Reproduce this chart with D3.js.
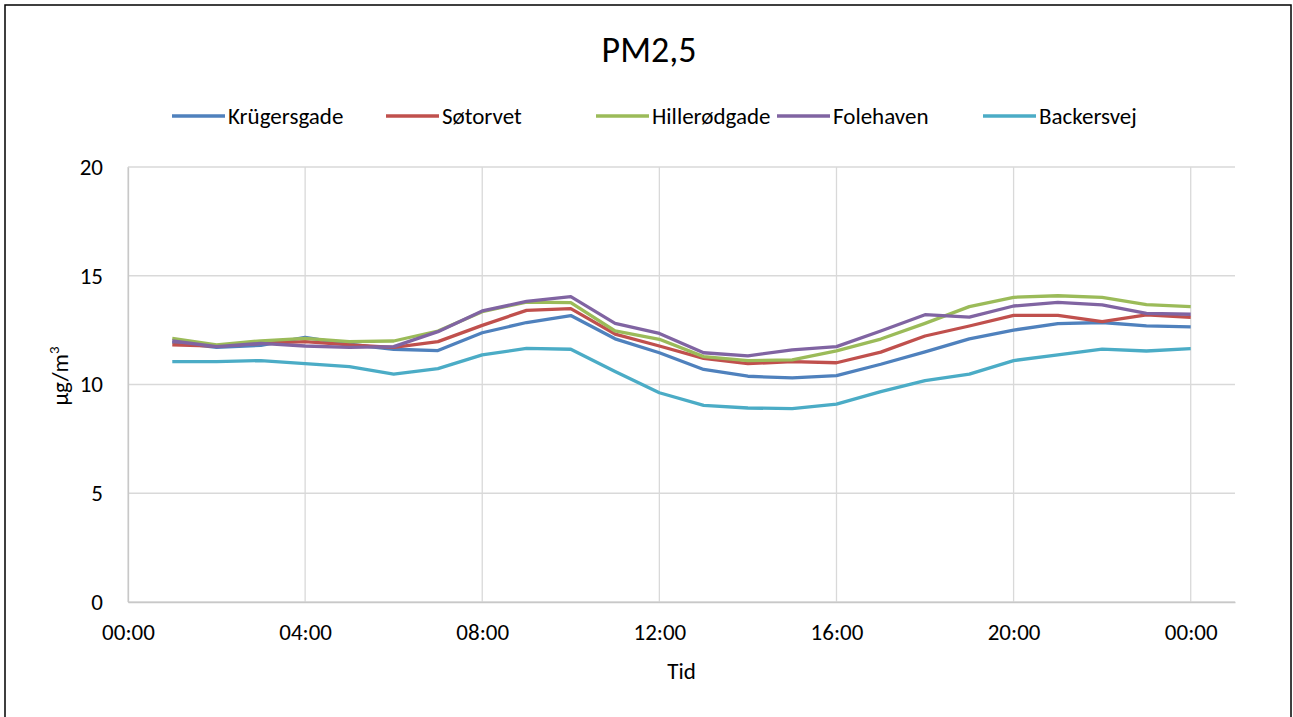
<!DOCTYPE html>
<html>
<head>
<meta charset="utf-8">
<script src="https://cdn.jsdelivr.net/npm/d3@7"></script>
<style>
  body { margin: 0; background: #fff; }
  text { font-family: Calibri, Carlito, "Open Sans", sans-serif; fill: #000; }
</style>
</head>
<body>
<svg id="chart"></svg>
<script>
// hours of the day (1..24, the last one is midnight)
const hours = [1, 2, 3, 4, 5, 6, 7, 8, 9, 10, 11, 12, 13, 14, 15, 16, 17, 18, 19, 20, 21, 22, 23, 24];
const seriesNames = ["Krügersgade", "Søtorvet", "Hillerødgade", "Folehaven", "Backersvej"];
const kruegersgade = [11.95, 11.71, 11.8, 12.17, 11.85, 11.62, 11.56, 12.38, 12.85, 13.17, 12.1, 11.46, 10.69, 10.38, 10.3, 10.41, 10.93, 11.5, 12.1, 12.5, 12.8, 12.85, 12.7, 12.65];
const soetorvet = [11.82, 11.77, 11.89, 11.97, 11.82, 11.71, 11.97, 12.72, 13.41, 13.49, 12.32, 11.77, 11.2, 10.96, 11.05, 11.0, 11.49, 12.23, 12.69, 13.18, 13.18, 12.89, 13.2, 13.09];
const hilleroedgade = [12.12, 11.82, 12.01, 12.12, 11.97, 12.0, 12.46, 13.35, 13.79, 13.76, 12.46, 12.08, 11.28, 11.1, 11.13, 11.55, 12.09, 12.81, 13.58, 14.01, 14.08, 14.01, 13.67, 13.58];
const folehaven = [12.0, 11.74, 11.89, 11.77, 11.71, 11.74, 12.43, 13.38, 13.82, 14.04, 12.81, 12.35, 11.46, 11.32, 11.59, 11.74, 12.46, 13.21, 13.1, 13.61, 13.78, 13.66, 13.27, 13.23];
const backersvej = [11.05, 11.05, 11.1, 10.96, 10.82, 10.48, 10.73, 11.36, 11.66, 11.62, 10.6, 9.62, 9.04, 8.92, 8.89, 9.1, 9.67, 10.18, 10.48, 11.1, 11.36, 11.63, 11.54, 11.65];
const xTicks = [0, 4, 8, 12, 16, 20, 24];
const xTickLabels = ["00:00", "04:00", "08:00", "12:00", "16:00", "20:00", "00:00"];
const yTicks = [0, 5, 10, 15, 20];
const colors = ["#4F81BD", "#C0504D", "#9BBB59", "#8064A2", "#4BACC6"];

const seriesValues = [kruegersgade, soetorvet, hilleroedgade, folehaven, backersvej];
const series = seriesNames.map((name, i) => ({
  name: name,
  color: colors[i],
  values: hours.map((h, j) => ({ h: h, v: seriesValues[i][j] }))
}));

const width = 1293, height = 717;
const margin = { top: 167, right: 58, bottom: 115, left: 128 };
const innerW = width - margin.left - margin.right;
const innerH = height - margin.top - margin.bottom;
const labelSize = "23px";

const svg = d3.select("#chart").attr("width", width).attr("height", height);

// outer frame
svg.append("rect")
  .attr("x", 5).attr("y", 5)
  .attr("width", 1286).attr("height", 730)
  .attr("fill", "#fff")
  .attr("stroke", "#000")
  .attr("stroke-width", 1.5);

const x = d3.scaleLinear().domain([0, 25]).range([0, innerW]);
const y = d3.scaleLinear().domain([0, 20]).range([innerH, 0]);

const chart = svg.append("g")
  .attr("transform", `translate(${margin.left},${margin.top})`);

// grid lines
chart.append("g")
  .selectAll("line.hgrid")
  .data(yTicks)
  .join("line")
  .attr("class", "hgrid")
  .attr("x1", 0).attr("x2", innerW)
  .attr("y1", d => y(d)).attr("y2", d => y(d))
  .attr("stroke", "#d9d9d9")
  .attr("stroke-width", 1.3);

chart.append("g")
  .selectAll("line.vgrid")
  .data(xTicks)
  .join("line")
  .attr("class", "vgrid")
  .attr("x1", d => x(d)).attr("x2", d => x(d))
  .attr("y1", 0).attr("y2", innerH)
  .attr("stroke", "#d9d9d9")
  .attr("stroke-width", 1.3);

// axes
const xAxis = d3.axisBottom(x)
  .tickValues(xTicks)
  .tickFormat((d, i) => xTickLabels[i])
  .tickSize(0)
  .tickPadding(22);
const yAxis = d3.axisLeft(y)
  .tickValues(yTicks)
  .tickSize(0)
  .tickPadding(25);

const xAxisGroup = chart.append("g")
  .attr("transform", `translate(0,${innerH})`)
  .call(xAxis);
const yAxisGroup = chart.append("g").call(yAxis);

[xAxisGroup, yAxisGroup].forEach(g => {
  g.select(".domain").attr("stroke", "#c8c8c8").attr("stroke-width", 1.3);
  g.selectAll("text").attr("font-size", labelSize)
    .attr("font-family", "Calibri, Carlito, 'Open Sans', sans-serif")
    .attr("fill", "#000");
});
yAxisGroup.selectAll("text").attr("text-anchor", "end");

// lines
const line = d3.line().x(d => x(d.h)).y(d => y(d.v));
chart.selectAll(".series")
  .data(series)
  .join("path")
  .attr("class", "series")
  .attr("d", d => line(d.values))
  .attr("fill", "none")
  .attr("stroke", d => d.color)
  .attr("stroke-width", 3.3)
  .attr("stroke-linejoin", "round");

// title
svg.append("text")
  .attr("x", 649).attr("y", 62)
  .attr("text-anchor", "middle")
  .attr("font-size", "36px")
  .text("PM2,5");

// axis titles
svg.append("text")
  .attr("x", margin.left + x(12.5)).attr("y", 679)
  .attr("text-anchor", "middle")
  .attr("font-size", labelSize)
  .text("Tid");

const yTitle = svg.append("text")
  .attr("transform", `translate(68,376) rotate(-90)`)
  .attr("text-anchor", "middle")
  .attr("font-size", labelSize);
yTitle.append("tspan").text("µg/m");
yTitle.append("tspan").attr("dy", -9).attr("font-size", "15px").text("3");

// legend
const legendX = [172, 386, 596, 777, 983];
const legend = svg.append("g")
  .selectAll("g")
  .data(series)
  .join("g")
  .attr("transform", (d, i) => `translate(${legendX[i]},116)`);
legend.append("line")
  .attr("x1", 0).attr("x2", 53)
  .attr("stroke", d => d.color)
  .attr("stroke-width", 3.3);
legend.append("text")
  .attr("x", 56).attr("y", 8)
  .attr("font-size", labelSize)
  .text(d => d.name);
</script>
</body>
</html>
